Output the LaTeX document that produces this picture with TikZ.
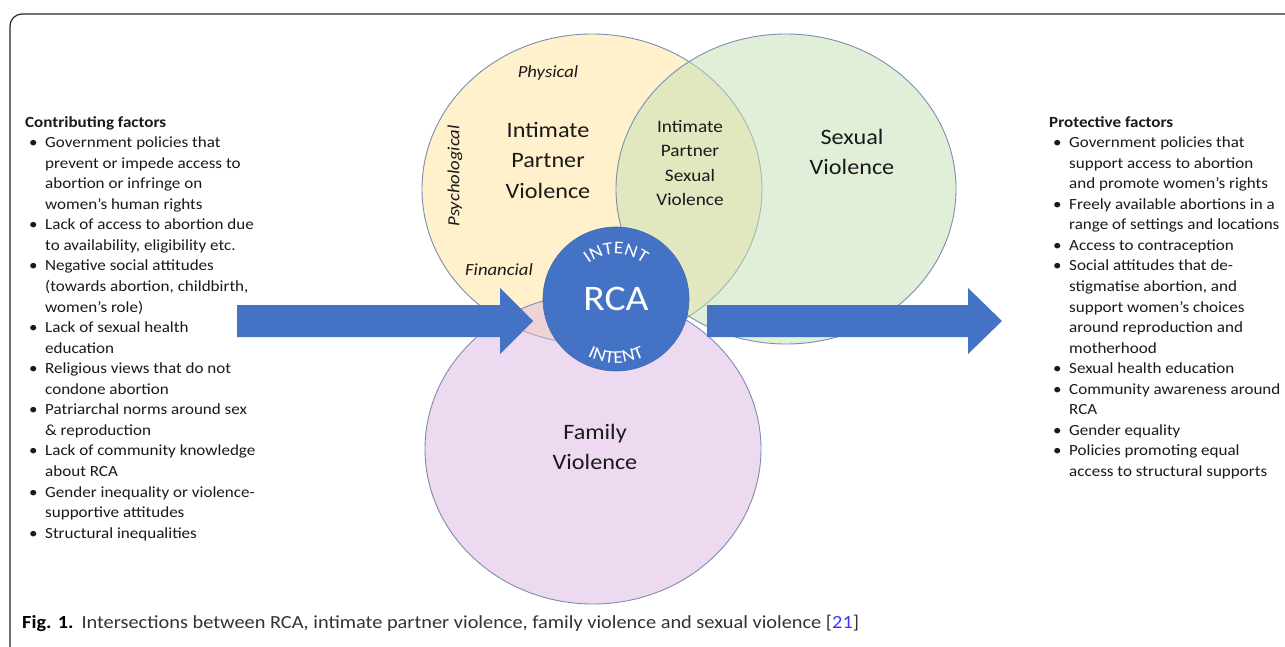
\documentclass[tikz,border=0pt]{standalone}
\usepackage{fontspec}
\setmainfont{Carlito}[FakeStretch=1.1]
\usetikzlibrary{shapes.geometric,decorations.text}

\definecolor{ipvyellow}{HTML}{FFE599}
\definecolor{svgreen}{HTML}{C5E0B4}
\definecolor{fvpink}{HTML}{DDB5E2}
\definecolor{vennline}{HTML}{7C8DB0}
\definecolor{rcablue}{HTML}{4472C4}
\definecolor{inktext}{HTML}{1A1A1A}
\definecolor{captiongrey}{HTML}{333333}
\definecolor{refblue}{HTML}{3333FF}

% list helpers: bulleted first line and indented continuation line
\newcommand\bitem[1]{\hspace*{4pt}\makebox[16pt][l]{\textbullet}#1}
\newcommand\bcont[1]{\hspace*{20pt}#1}

\tikzset{
  venn/.style={ellipse, draw=vennline, line width=0.9pt, fill opacity=0.5, inner sep=0pt},
  bigtxt/.style={align=center, text=inktext, inner sep=0pt, font=\fontsize{22}{30.5}\selectfont},
  midtxt/.style={align=center, text=inktext, inner sep=0pt, font=\fontsize{17.5}{24.5}\selectfont},
  kindtxt/.style={text=inktext, inner sep=0pt, font=\fontsize{17}{20}\selectfont\itshape},
  factorlist/.style={align=left, text=inktext, inner sep=0pt, font=\fontsize{15.5}{20.55}\selectfont},
  blockarrow/.style={fill=rcablue, draw=none},
  framestyle/.style={draw=black!85, line width=1.2pt, rounded corners=12pt},
  arctext/.style={decorate, decoration={text along path, text align=center,
      text={|\fontsize{18}{18}\selectfont\color{white}|INTENT}}},
}

\begin{document}
\begin{tikzpicture}[x=1pt,y=1pt]
\useasboundingbox (0,0) rectangle (1285,-647);
\fill[white] (0,0) rectangle (1285,-647);

% figure frame, open to the right and bottom
\begin{scope}
  \clip (0,0) rectangle (1285,-647);
  \draw[framestyle] (10,-700) -- (10,-14) -- (1320,-14);
\end{scope}

% the three overlapping forms of violence
\node[venn, fill=ipvyellow, minimum width=340pt, minimum height=310pt] (ipv) at (592,-189) {};
\node[venn, fill=svgreen,   minimum width=340pt, minimum height=310pt] (sv)  at (786,-189) {};
\node[venn, fill=fvpink,    minimum width=336pt, minimum height=310pt] (fv)  at (593,-449) {};

% circle labels
\node[bigtxt] (ipvlbl) at (548,-160) {Intimate\\Partner\\Violence};
\node[bigtxt] (svlbl) at (852,-152) {Sexual\\Violence};
\node[bigtxt] (fvlbl) at (595,-447) {Family\\Violence};
\node[midtxt] (ipsvlbl) at (690,-163) {Intimate\\Partner\\Sexual\\Violence};
\node[kindtxt] (phys) at (548,-73) {Physical};
\node[kindtxt, rotate=90] (psych) at (455,-176) {Psychological};
\node[kindtxt] (fin) at (499,-270) {Financial};

% block arrows into and out of RCA
\coordinate (inL) at (237,-321);
\coordinate (inT) at (533,-321);
\coordinate (outL) at (707,-321);
\coordinate (outT) at (1002,-321);
\fill[blockarrow] ([yshift=16pt]inL) -- ([xshift=-33pt,yshift=16pt]inT) -- ([xshift=-33pt,yshift=33pt]inT)
  -- (inT) -- ([xshift=-33pt,yshift=-33pt]inT) -- ([xshift=-33pt,yshift=-16pt]inT) -- ([yshift=-16pt]inL) -- cycle;
\fill[blockarrow] ([yshift=16pt]outL) -- ([xshift=-34pt,yshift=16pt]outT) -- ([xshift=-34pt,yshift=33pt]outT)
  -- (outT) -- ([xshift=-34pt,yshift=-33pt]outT) -- ([xshift=-34pt,yshift=-16pt]outT) -- ([yshift=-16pt]outL) -- cycle;

% RCA at the centre
\node[ellipse, fill=rcablue, draw=rcablue!90!black, line width=0.6pt, minimum width=146pt, minimum height=144pt] (rca) at (616,-299) {};
\node[text=white, inner sep=0pt, font=\fontsize{36}{40}\selectfont] (rcalbl) at (rca.center) {RCA};
\path[arctext] ([shift={(rca.center)}]150:45) arc[start angle=150, end angle=30, radius=45];
\path[arctext] ([shift={(rca.center)}]212:64) arc[start angle=212, end angle=328, radius=64];

% contributing factors
\node[factorlist, anchor=north west] (contrib) at (25,-116) {%
  \textbf{Contributing factors}\\
  \bitem{Government policies that}\\
  \bcont{prevent or impede access to}\\
  \bcont{abortion or infringe on}\\
  \bcont{women’s human rights}\\
  \bitem{Lack of access to abortion due}\\
  \bcont{to availability, eligibility etc.}\\
  \bitem{Negative social attitudes}\\
  \bcont{(towards abortion, childbirth,}\\
  \bcont{women’s role)}\\
  \bitem{Lack of sexual health}\\
  \bcont{education}\\
  \bitem{Religious views that do not}\\
  \bcont{condone abortion}\\
  \bitem{Patriarchal norms around sex}\\
  \bcont{\& reproduction}\\
  \bitem{Lack of community knowledge}\\
  \bcont{about RCA}\\
  \bitem{Gender inequality or violence-}\\
  \bcont{supportive attitudes}\\
  \bitem{Structural inequalities}};

% protective factors
\node[factorlist, anchor=north west] (protect) at (1049,-116) {%
  \textbf{Protective factors}\\
  \bitem{Government policies that}\\
  \bcont{support access to abortion}\\
  \bcont{and promote women’s rights}\\
  \bitem{Freely available abortions in a}\\
  \bcont{range of settings and locations}\\
  \bitem{Access to contraception}\\
  \bitem{Social attitudes that de-}\\
  \bcont{stigmatise abortion, and}\\
  \bcont{support women’s choices}\\
  \bcont{around reproduction and}\\
  \bcont{motherhood}\\
  \bitem{Sexual health education}\\
  \bitem{Community awareness around}\\
  \bcont{RCA}\\
  \bitem{Gender equality}\\
  \bitem{Policies promoting equal}\\
  \bcont{access to structural supports}};

% caption
\node[anchor=base west, inner sep=0pt, font=\fontsize{18.5}{22}\selectfont] (caption) at (22,-628)
  {\textbf{Fig. 1.}\hspace{8pt}\textcolor{captiongrey}{Intersections between RCA, intimate partner violence, family violence and sexual violence [\textcolor{refblue}{21}]}};
\end{tikzpicture}
\end{document}
